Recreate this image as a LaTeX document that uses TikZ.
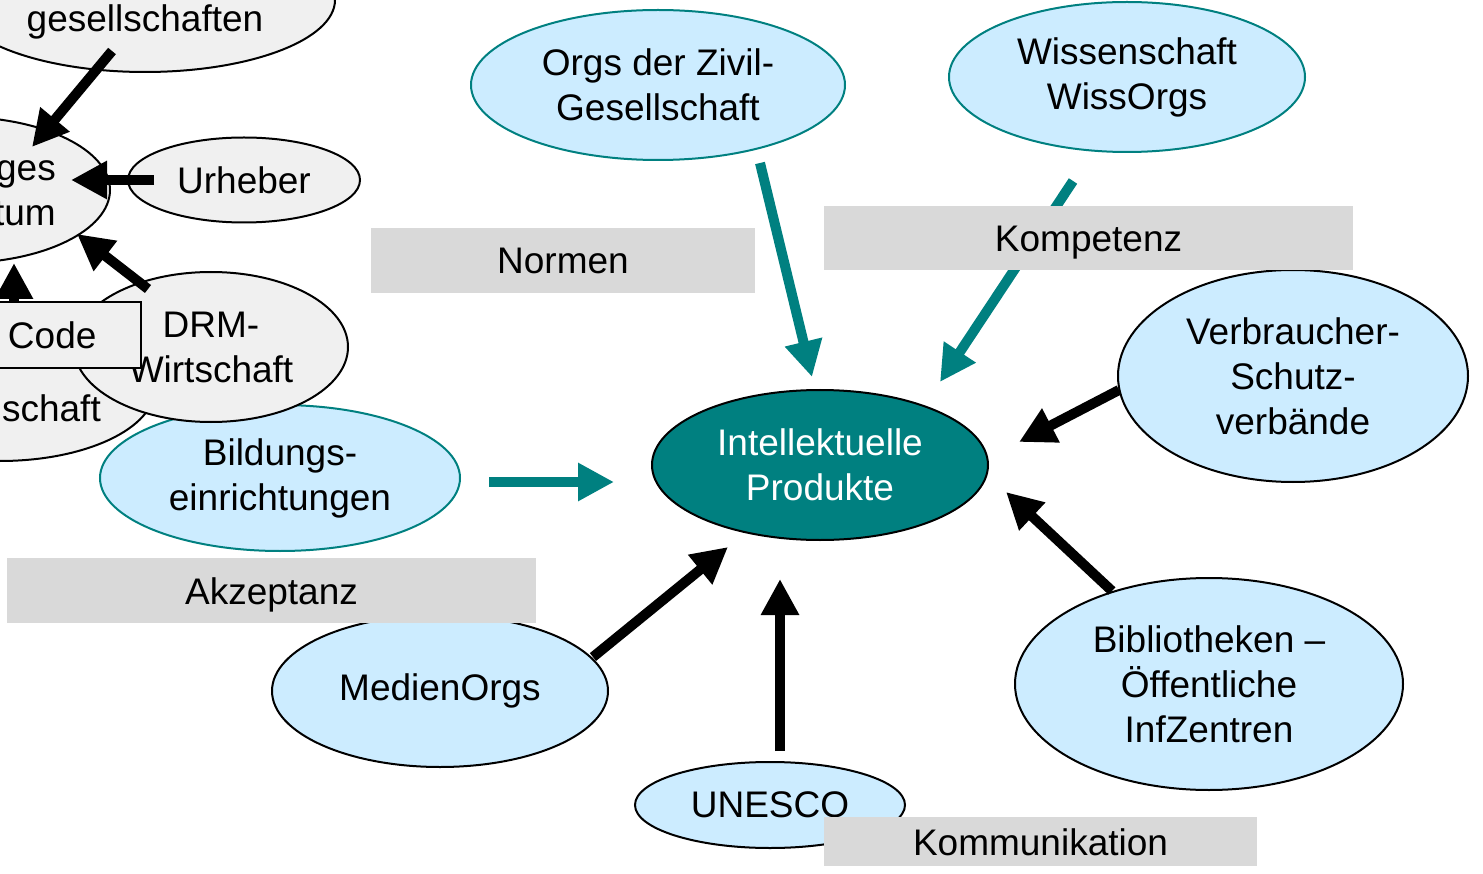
\documentclass[tikz,border=0pt]{standalone}
\usepackage{fontspec}
\setmainfont{Liberation Sans}
\usetikzlibrary{shapes.geometric,arrows.meta,calc}
\definecolor{lblue}{HTML}{CCECFF}
\definecolor{tealc}{HTML}{008080}
\definecolor{egray}{HTML}{F0F0F0}
\definecolor{bgray}{HTML}{D9D9D9}
\begin{document}
\begin{tikzpicture}[x=1pt,y=-1pt,
  every node/.style={font=\fontsize{37}{45}\selectfont},
  ell/.style={ellipse, inner sep=0pt, line width=2pt, align=center},
  blueT/.style={ell, fill=lblue, draw=tealc},
  blueB/.style={ell, fill=lblue, draw=black},
  grayE/.style={ell, fill=egray, draw=black},
  lbl/.style={fill=bgray, inner sep=0pt, text height=27pt, text depth=0pt},
  plain/.style={inner sep=0pt, align=right},
  codebox/.style={draw=black, line width=2pt, fill=egray, minimum height=66pt, text width=120pt, inner xsep=13pt, inner ysep=0pt, align=left},
  tarr/.style={draw=tealc, line width=10pt, -{Triangle[length=36pt,width=36pt]}},
  barr/.style={draw=black, line width=10pt, -{Triangle[length=36pt,width=36pt]}},
]
\useasboundingbox (0,0) rectangle (1483,874);
\clip (0,0) rectangle (1483,874);

% left cluster (cut off)
\node[grayE, minimum width=380pt, minimum height=144pt] (gesell) at (145,0) {};
\node[plain] (gesellt) at (145,22) {gesellschaften};
\node[grayE, minimum width=300pt, minimum height=146pt] (ges) at (-40,190) {};
\node[plain, anchor=east] (gest) at (56,193) {ges\\tum};
\node[grayE, minimum width=232pt, minimum height=85pt] (urh) at (244,180) {Urheber};
\node[grayE, minimum width=310pt, minimum height=146pt] (oss) at (0,388) {};
\node[plain, anchor=east] (osst) at (101,408) {schaft};
\node[blueT, minimum width=360pt, minimum height=146pt] (bild) at (280,478) {Bildungs-\\einrichtungen};
\node[grayE, minimum width=274pt, minimum height=150pt] (drm) at (211,347) {DRM-\\Wirtschaft};

% main ellipses
\node[blueT, minimum width=374pt, minimum height=150pt] (orgs) at (658,85) {Orgs der Zivil-\\Gesellschaft};
\node[blueT, minimum width=356pt, minimum height=150pt] (wiss) at (1127,77) {Wissenschaft\\WissOrgs};
\node[blueB, minimum width=350pt, minimum height=212pt] (verb) at (1293,376) {Verbraucher-\\Schutz-\\verbände};
\node[ell, fill=tealc, draw=black, text=white, minimum width=336pt, minimum height=150pt] (intel) at (820,465) {Intellektuelle\\Produkte};
\node[blueB, minimum width=388pt, minimum height=212pt] (bib) at (1209,684) {Bibliotheken –\\Öffentliche\\InfZentren};
\node[blueB, minimum width=336pt, minimum height=152pt] (med) at (440,691) {MedienOrgs};
\node[blueB, minimum width=270pt, minimum height=86pt] (unesco) at (770,805) {UNESCO};

% left cluster arrows
\draw[barr] ([shift={(-33,-22)}]gesell.south) -- ([shift={(72,31)}]ges.north);
\draw[barr] ([shift={(27,0)}]urh.west) -- ([shift={(-40,-10)}]ges.east);
\draw[barr] ([shift={(-63,18)}]drm.north) -- ([shift={(-34,44)}]ges.east);
\node[codebox] (code) at (68,335) {};
\draw[barr] ([shift={(-54,10)}]code.north) -- ([shift={(54,-1)}]ges.south);
\node[codebox] (code2) at (68,335) {Code};

% main arrows
\draw[tarr] ([shift={(28,4)}]bild.east) -- ([shift={(-37,17)}]intel.west);
\draw[tarr] ([shift={(102,2)}]orgs.south) -- ([shift={(-8,-12)}]intel.north);
\draw[tarr] ([shift={(-54,28)}]wiss.south) -- ([shift={(120,-7)}]intel.north);
\draw[barr] ([shift={(2,14)}]verb.west) -- ([shift={(30,-23)}]intel.east);
\draw[barr] ([shift={(-97,14)}]bib.north) -- ([shift={(17,27)}]intel.east);
\draw[barr] ([shift={(10,-10)}]unesco.north) -- ([shift={(-40,38)}]intel.south);
\draw[barr] ([shift={(-16,-34)}]med.east) -- ([shift={(-92,6)}]intel.south);

% grey label boxes
\node[lbl, minimum width=384pt, minimum height=65pt] (normen) at (563,260.5) {Normen};
\node[lbl, minimum width=529pt, minimum height=64pt] (komp) at (1088.5,238) {Kompetenz};
\node[lbl, minimum width=529pt, minimum height=65pt] (akz) at (271.5,590.5) {Akzeptanz};
\node[lbl, minimum width=433pt, minimum height=49pt] (komm) at (1040.5,841.5) {Kommunikation};
\end{tikzpicture}
\end{document}
